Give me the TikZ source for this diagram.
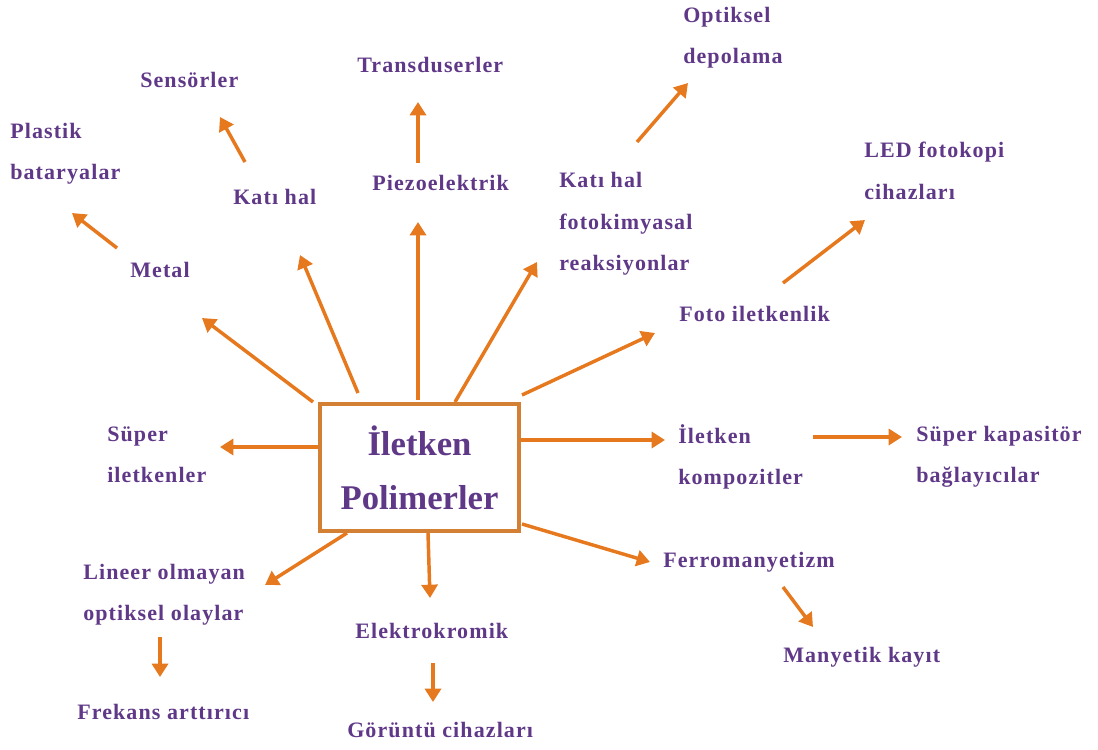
\documentclass[tikz,border=0pt]{standalone}
\usepackage{fontspec}
\setmainfont{Liberation Serif}
\newfontfamily\lblfont[LetterSpace=5]{Liberation Serif}
\usetikzlibrary{arrows.meta}
\definecolor{lblpurple}{RGB}{96,56,136}
\definecolor{arrorange}{RGB}{230,120,30}
\definecolor{boxorange}{RGB}{212,128,52}
\tikzset{
  lbl/.style={anchor=west, inner sep=0pt, align=left, text=lblpurple,
    font=\lblfont\bfseries\fontsize{16.5}{31}\selectfont},
  arr/.style={draw=arrorange, line width=2.6pt, -{Triangle[length=10pt,width=12pt]}},
  titlebox/.style={draw=boxorange, line width=3pt, minimum width=149pt, minimum height=95pt,
    align=center, text=lblpurple, font=\bfseries\fontsize{26}{40.5}\selectfont},
}
\begin{document}
\begin{tikzpicture}[x=0.75pt, y=-0.75pt]
  \useasboundingbox (0,0) rectangle (1098,749);
  \node[titlebox] (box) at (419.5,467.5) {İletken\\Polimerler};

  \node[lbl] (sensor) at (140,80) {Sensörler};
  \node[lbl] (trans) at (357,65) {Transduserler};
  \node[lbl] (optik) at (683,38) {Optiksel\\depolama};
  \node[lbl] (plastik) at (10,154) {Plastik\\bataryalar};
  \node[lbl] (katihal) at (233,197) {Katı hal};
  \node[lbl] (piezo) at (372,183) {Piezoelektrik};
  \node[lbl] (fotokim) at (559,224) {Katı hal\\fotokimyasal\\reaksiyonlar};
  \node[lbl] (led) at (864,171) {LED fotokopi\\cihazları};
  \node[lbl] (metal) at (130,270) {Metal};
  \node[lbl] (fotoil) at (679,314) {Foto iletkenlik};
  \node[lbl] (superil) at (107,455) {Süper\\iletkenler};
  \node[lbl] (kompoz) at (678,457) {İletken\\kompozitler};
  \node[lbl] (kapas) at (916,457) {Süper kapasitör\\bağlayıcılar};
  \node[lbl] (lineer) at (83,595) {Lineer olmayan\\optiksel olaylar};
  \node[lbl] (ferro) at (663,562) {Ferromanyetizm};
  \node[lbl] (elektro) at (355,631) {Elektrokromik};
  \node[lbl] (manyet) at (783,657) {Manyetik kayıt};
  \node[lbl] (frekans) at (77,712) {Frekans arttırıcı};
  \node[lbl] (goruntu) at (347,730) {Görüntü cihazları};

  \coordinate (metal-t) at (313,402);   \coordinate (metal-h) at (202,318);
  \coordinate (katihal-t) at (358,393); \coordinate (katihal-h) at (300,255);
  \coordinate (piezo-t) at (418,400);   \coordinate (piezo-h) at (418,222);
  \coordinate (fotokim-t) at (455,402); \coordinate (fotokim-h) at (537,262);
  \coordinate (fotoil-t) at (522,395);  \coordinate (fotoil-h) at (655,333);
  \coordinate (kompoz-t) at (521,440);  \coordinate (kompoz-h) at (665,440);
  \coordinate (superil-t) at (318,447); \coordinate (superil-h) at (220,447);
  \coordinate (lineer-t) at (347,533);  \coordinate (lineer-h) at (265,585);
  \coordinate (elektro-t) at (428,533); \coordinate (elektro-h) at (430,598);
  \coordinate (ferro-t) at (522,524);   \coordinate (ferro-h) at (650,562);
  \coordinate (plastik-t) at (117,248); \coordinate (plastik-h) at (72,213);
  \coordinate (sensor-t) at (245,162);  \coordinate (sensor-h) at (220,117);
  \coordinate (trans-t) at (418,163);   \coordinate (trans-h) at (418,102);
  \coordinate (optik-t) at (637,142);   \coordinate (optik-h) at (688,83);
  \coordinate (led-t) at (783,283);     \coordinate (led-h) at (865,220);
  \coordinate (kapas-t) at (813,437);   \coordinate (kapas-h) at (902,437);
  \coordinate (manyet-t) at (783,587);  \coordinate (manyet-h) at (813,627);
  \coordinate (frekans-t) at (160,637); \coordinate (frekans-h) at (160,677);
  \coordinate (goruntu-t) at (433,663); \coordinate (goruntu-h) at (433,702);

  \foreach \n in {metal,katihal,piezo,fotokim,fotoil,kompoz,superil,lineer,elektro,ferro,
    plastik,sensor,trans,optik,led,kapas,manyet,frekans,goruntu}
    \draw[arr] (\n-t) -- (\n-h);
\end{tikzpicture}
\end{document}
